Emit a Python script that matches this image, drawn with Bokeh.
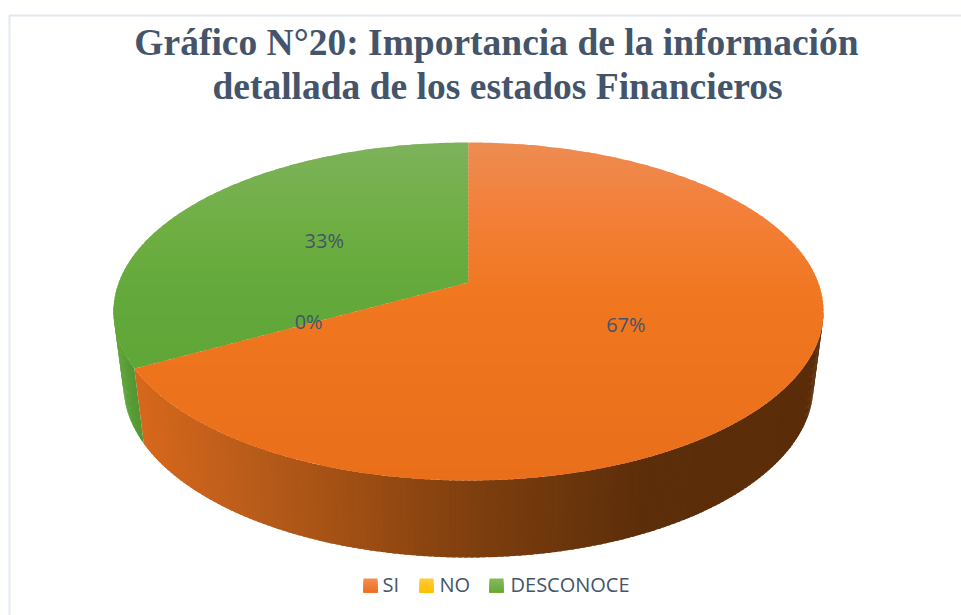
import math
from bokeh.plotting import figure
from bokeh.models import Range1d
from bokeh.core.properties import value
from bokeh.embed import file_html
from bokeh.resources import INLINE

# ---- data ----
title_lines = ["Gráfico N°20: Importancia de la información", "detallada de los estados Financieros"]
categories = ["SI", "NO", "DESCONOCE"]
values = [67, 0, 33]
labels = ["67%", "0%", "33%"]

# ---- style ----
TOP_STOPS = {
    "SI": [(142, "#ED8C52"), (215, "#F37F38"), (300, "#F0771F"), (480, "#E96F1B")],
    "NO": [(142, "#FFCB3A"), (480, "#FFBF00")],
    "DESCONOCE": [(142, "#7DB25B"), (230, "#6EAE42"), (300, "#62A83A"), (480, "#5CA436")],
}
SIDE_STOPS = {
    "SI": [(135, "#D8681C"), (250, "#B95C1A"), (350, "#A04F14"), (420, "#8C4510"),
           (470, "#7F3F0E"), (640, "#5C2E0A"), (823, "#5A2C08")],
    "NO": [(113, "#BF9000"), (823, "#7F6000")],
    "DESCONOCE": [(113, "#62A83A"), (145, "#4F9030")],
}
LEGEND = {
    "SI": ("#F48B55", "#EF7020", 363, 382),
    "NO": ("#FFCB3A", "#FFBF00", 419, 439),
    "DESCONOCE": ("#82B85F", "#6AA935", 489, 510),
}
TEXT = "#44546A"
CX, CY, RX, RY = 468.0, 311.0, 355.0, 169.0
BCY, BRX, BRY = 385.0, 345.0, 172.0
KK, BB = 0.1716, 29.0
CC = RX * math.sqrt(1 - KK ** 2)


def hexrgb(c):
    return tuple(int(c[i:i + 2], 16) for i in (1, 3, 5))


def interp(stops, t):
    if t <= stops[0][0]:
        return stops[0][1]
    for (a, ca), (b, cb) in zip(stops, stops[1:]):
        if t <= b:
            f = (t - a) / (b - a)
            r = [round(x + (y - x) * f) for x, y in zip(hexrgb(ca), hexrgb(cb))]
            return "#%02X%02X%02X" % tuple(r)
    return stops[-1][1]


def disk(r, deg):
    """Perspective view of a point on the pie's disc; angle clockwise from 12 o'clock."""
    u = r * math.sin(math.radians(deg))
    v = r * math.cos(math.radians(deg))
    d = 1 + KK * v
    return CX + CC * u / d, CY - (RY * v + BB) / d


def clip_band(pts, y0, y1):
    def clip(poly, inside, cross):
        out = []
        for i, p in enumerate(poly):
            q = poly[(i + 1) % len(poly)]
            if inside(p):
                out.append(p)
            if inside(p) != inside(q):
                out.append(cross(p, q))
        return out

    def at(y):
        return lambda p, q: (p[0] + (q[0] - p[0]) * (y - p[1]) / (q[1] - p[1]), y)

    poly = clip(pts, lambda p: p[1] >= y0, at(y0))
    if poly:
        poly = clip(poly, lambda p: p[1] <= y1, at(y1))
    return poly


p = figure(width=961, height=615, x_range=Range1d(0, 961), y_range=Range1d(615, 0),
           output_backend="svg", toolbar_location=None, min_border=0,
           background_fill_color="white", border_fill_color="white", outline_line_color=None)
p.axis.visible = False
p.grid.visible = False

# chart frame
p.line([9, 9, 961], [615, 15, 15], line_color="#E2E8F0", line_width=2)

# slice angles
total = sum(values)
spans = []
a = 0.0
for c, v, lab in zip(categories, values, labels):
    spans.append((c, a, a + 360.0 * v / total, lab))
    a += 360.0 * v / total


def phi(d):
    x, y = disk(1, d)
    return math.degrees(math.atan2((x - CX) / RX, (CY - y) / RY)) % 360


# side wall: strips overlap the next one so no seams show
sx, sy, sc = [], [], []
for c, a0, a1, _ in spans:
    if a1 <= a0:
        continue
    f0, f1 = phi(a0), phi(a1) if a1 < 360 else 360.0
    lo, hi = max(f0, 90.0), min(f1, 272.0)
    n = max(1, int(hi - lo)) if hi > lo else 0
    for i in range(n):
        t0 = math.radians(lo + (hi - lo) * i / n)
        t1 = math.radians(min(hi, lo + (hi - lo) * (i + 1.6) / n))
        xs = [CX + RX * math.sin(t0), CX + RX * math.sin(t1),
              CX + BRX * math.sin(t1), CX + BRX * math.sin(t0)]
        ys = [CY - RY * math.cos(t0), CY - RY * math.cos(t1),
              BCY - BRY * math.cos(t1), BCY - BRY * math.cos(t0)]
        sx.append(xs)
        sy.append(ys)
        sc.append(interp(SIDE_STOPS[c], sum(xs) / 4))
p.patches(sx, sy, fill_color=sc, line_color=None)

# top face, banded vertically for the light falloff; bands overlap downward
tx, ty, tc = [], [], []
for c, a0, a1, _ in sorted(spans, key=lambda s: s[0] == "SI"):
    if a1 <= a0:
        continue
    n = int(a1 - a0) * 2
    pts = [disk(0, 0)] + [disk(1, a0 + (a1 - a0) * i / n) for i in range(n + 1)]
    y = 140
    while y < 482:
        poly = clip_band(pts, y, y + 6)
        if len(poly) >= 3:
            tx.append([q[0] for q in poly])
            ty.append([q[1] for q in poly])
            tc.append(interp(TOP_STOPS[c], y + 2))
        y += 4
p.patches(tx, ty, fill_color=tc, line_color=None)

# data labels
lx, ly, lt = [], [], []
for c, a0, a1, lab in spans:
    x, y = disk(0.5, (a0 + a1) / 2)
    lx.append(x)
    ly.append(y - 2)
    lt.append(lab)
p.text(lx, ly, text=lt, text_font=value("Open Sans"), text_font_size="20px",
       text_color=TEXT, text_align="center", text_baseline="middle")

# title
p.text([496, 497], [42, 86], text=title_lines, text_font=value("Liberation Serif"),
       text_font_style="bold", text_font_size="37.5px", text_color=TEXT,
       text_align="center", text_baseline="alphabetic")

# legend
for c in categories:
    ctop, cbot, xs, xt = LEGEND[c]
    for i in range(7):
        col = interp([(0, ctop), (6, cbot)], i)
        p.quad(left=xs, right=xs + 14, top=578 + 2 * i, bottom=592,
               fill_color=col, line_color=None)
    p.text([xt], [584], text=[c], text_font=value("Open Sans"), text_font_size="20px",
           text_color=TEXT, text_align="left", text_baseline="middle")

open("out.html", "w").write(file_html(p, INLINE))
